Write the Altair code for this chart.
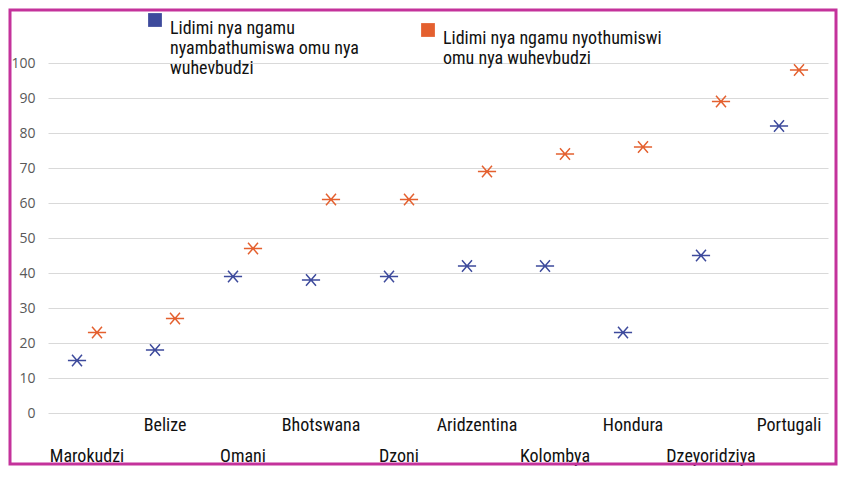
import altair as alt
import pandas as pd

categories = ["Marokudzi", "Belize", "Omani", "Bhotswana", "Dzoni",
              "Aridzentina", "Kolombya", "Hondura", "Dzeyoridziya", "Portugali"]
blue_vals = [15, 18, 39, 38, 39, 42, 42, 23, 45, 82]
orange_vals = [23, 27, 47, 61, 61, 69, 74, 76, 89, 98]
series_names = ["Lidimi nya ngamu nyambathumiswa omu nya wuhevbudzi",
                "Lidimi nya ngamu nyothumiswi omu nya wuhevbudzi"]
series_colors = ["#3d4a9c", "#e4602f"]
y_ticks = [0, 10, 20, 30, 40, 50, 60, 70, 80, 90, 100]
lower_row = ["Marokudzi", "Omani", "Dzoni", "Kolombya", "Dzeyoridziya"]

rows = []
for c, b, o in zip(categories, blue_vals, orange_vals):
    rows.append({"country": c, "series": series_names[0], "value": b})
    rows.append({"country": c, "series": series_names[1], "value": o})
df = pd.DataFrame(rows)

NARROW = "Roboto Condensed, Liberation Sans Narrow, DejaVu Sans Condensed, sans-serif"
star = "M-1,0L1,0M-0.55,-0.62L0.55,0.62M-0.55,0.62L0.55,-0.62"

lower_list = "[" + ",".join("'" + s + "'" for s in lower_row) + "]"
label_expr = (
    "datum.label == '" + series_names[0] + "' ? "
    "['Lidimi nya ngamu', 'nyambathumiswa omu nya', 'wuhevbudzi'] : "
    "['Lidimi nya ngamu nyothumiswi', 'omu nya wuhevbudzi']"
)

color_scale = alt.Scale(domain=series_names, range=series_colors)

points = alt.Chart(df).mark_point(
    shape=star, size=330, filled=True, strokeWidth=1.5, opacity=1
).encode(
    x=alt.X("country:N", sort=categories,
            scale=alt.Scale(paddingInner=0, paddingOuter=0),
            axis=alt.Axis(
                title=None, labelAngle=0, domain=False, ticks=False, grid=False,
                labelFont=NARROW, labelFontSize=18, labelColor="#111111",
                labelBaseline="top", labelLimit=200,
                labelPadding={"condition": {"test": "indexof(" + lower_list + ", datum.value) >= 0",
                                            "value": 34},
                              "value": 3},
            )),
    xOffset=alt.XOffset("series:N", sort=series_names,
                        scale=alt.Scale(type="point", range=[29, 49], padding=0)),
    y=alt.Y("value:Q", scale=alt.Scale(domain=[0, 100], nice=False),
            axis=alt.Axis(title=None, values=y_ticks, domain=False, ticks=False,
                          labelFont="Open Sans", labelFontSize=14, labelColor="#595959",
                          labelPadding=13, gridColor="#d9d9d9", gridWidth=1)),
    color=alt.Color("series:N", scale=color_scale, sort=series_names,
                    legend=alt.Legend(
                        title=None, orient="none", legendX=98, legendY=-52,
                        direction="horizontal", symbolType="square", symbolSize=190,
                        symbolStrokeWidth=0, labelExpr=label_expr,
                        labelFont=NARROW, labelFontSize=18, labelColor="#111111",
                        labelBaseline="top", labelOffset=6, labelLimit=400,
                        columnPadding=60, padding=0)),
    stroke=alt.Stroke("series:N", scale=color_scale, sort=series_names, legend=None),
)

border = alt.Chart(pd.DataFrame({"a": [0]})).mark_rect(
    filled=False, stroke="#c4329b", strokeWidth=3
).encode(
    x=alt.value(-38), x2=alt.value(788), y=alt.value(-53), y2=alt.value(401)
)

chart = alt.layer(border, points).properties(
    width=780, height=350,
    autosize=alt.AutoSizeParams(type="none"),
    padding={"left": 40, "top": 55, "right": 10, "bottom": 55},
).configure_view(stroke=None)

chart.save("out.html", embed_options={"renderer": "svg", "actions": False})
